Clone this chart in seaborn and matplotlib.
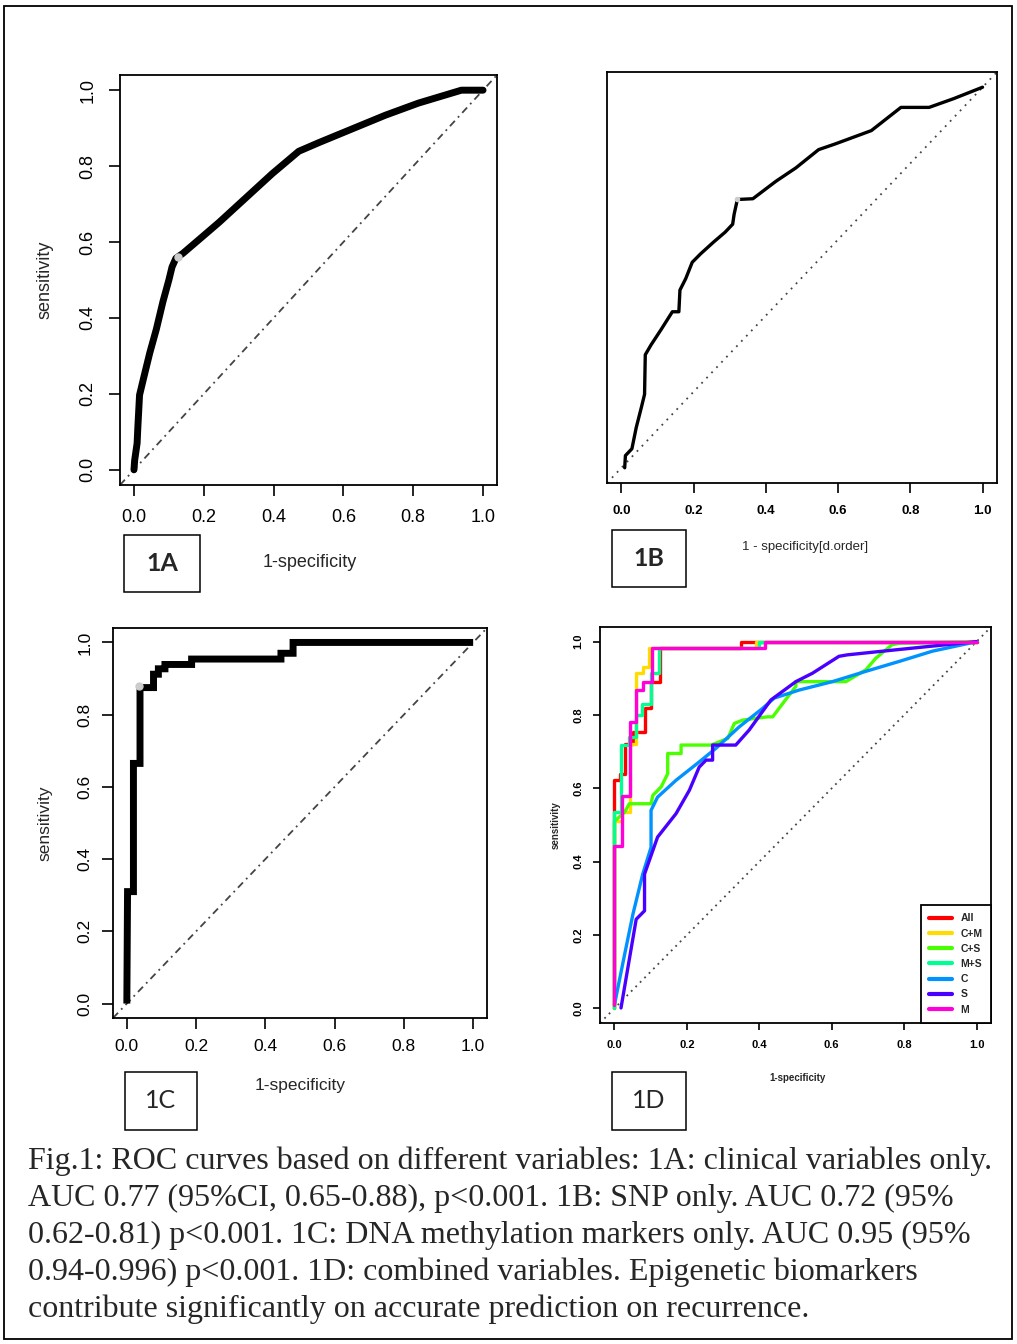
import numpy as np
import pandas as pd
import seaborn as sns
import matplotlib.pyplot as plt
from matplotlib.patches import Rectangle

# ---- data ----
# 1A: clinical variables only
fpr_a = [0.0, 0.002, 0.009, 0.011, 0.016, 0.028, 0.045, 0.064, 0.083, 0.10, 0.109, 0.12,
         0.14, 0.187, 0.244, 0.32, 0.396, 0.472, 0.53, 0.625, 0.72, 0.815, 0.938, 1.0]
tpr_a = [0.0, 0.025, 0.07, 0.11, 0.197, 0.243, 0.307, 0.37, 0.443, 0.50, 0.534, 0.557,
         0.57, 0.607, 0.652, 0.716, 0.78, 0.839, 0.862, 0.898, 0.934, 0.966, 1.0, 1.0]
best_a = (0.125, 0.56)

# 1B: SNP only
fpr_b = [0.009, 0.011, 0.029, 0.041, 0.055, 0.064, 0.066, 0.082, 0.109, 0.141, 0.159, 0.162,
         0.178, 0.196, 0.219, 0.255, 0.287, 0.308, 0.312, 0.321, 0.364, 0.428, 0.483, 0.546,
         0.592, 0.692, 0.774, 0.852, 0.92, 1.0]
tpr_b = [0.0, 0.032, 0.05, 0.106, 0.158, 0.193, 0.297, 0.323, 0.362, 0.41, 0.41, 0.467,
         0.497, 0.54, 0.562, 0.593, 0.619, 0.64, 0.666, 0.705, 0.707, 0.753, 0.788, 0.836,
         0.851, 0.886, 0.947, 0.947, 0.97, 1.0]
best_b = (0.321, 0.705)

# 1C: DNA methylation markers only
fpr_c = [0.0, 0.0, 0.002, 0.019, 0.019, 0.038, 0.038, 0.077, 0.077, 0.091, 0.091, 0.11,
         0.11, 0.187, 0.187, 0.445, 0.445, 0.48, 0.48, 1.0]
tpr_c = [0.0, 0.01, 0.31, 0.31, 0.665, 0.665, 0.875, 0.875, 0.912, 0.912, 0.927, 0.927,
         0.939, 0.939, 0.954, 0.954, 0.97, 0.97, 1.0, 1.0]
best_c = (0.034, 0.88)

# 1D: combined variables
models = ["All", "C+M", "C+S", "M+S", "C", "S", "M"]
colors = ["#FF0000", "#FFDB00", "#49FF00", "#00FF92", "#0092FF", "#4900FF", "#FF00DB"]

fpr_all = [0.0, 0.0, 0.014, 0.014, 0.028, 0.028, 0.05, 0.05, 0.083, 0.083, 0.1, 0.1, 0.126,
           0.126, 0.35, 0.35, 1.0]
tpr_all = [0.0, 0.622, 0.622, 0.64, 0.64, 0.72, 0.72, 0.755, 0.755, 0.82, 0.82, 0.89, 0.89,
           0.983, 0.983, 1.0, 1.0]
fpr_cm = [0.0, 0.0, 0.021, 0.021, 0.043, 0.043, 0.06, 0.06, 0.078, 0.078, 0.096, 0.096,
          0.39, 0.39, 1.0]
tpr_cm = [0.0, 0.51, 0.51, 0.535, 0.535, 0.72, 0.72, 0.914, 0.914, 0.932, 0.932, 0.983,
          0.983, 1.0, 1.0]
fpr_cs = [0.0, 0.0, 0.028, 0.041, 0.101, 0.106, 0.129, 0.147, 0.147, 0.184, 0.184, 0.267,
          0.313, 0.331, 0.354, 0.39, 0.423, 0.437, 0.469, 0.501, 0.501, 0.639, 0.694, 0.722,
          0.767, 0.79, 1.0]
tpr_cs = [0.0, 0.51, 0.535, 0.558, 0.558, 0.581, 0.604, 0.64, 0.695, 0.695, 0.718, 0.718,
          0.736, 0.777, 0.786, 0.791, 0.795, 0.795, 0.837, 0.878, 0.891, 0.891, 0.923, 0.955,
          0.992, 0.996, 1.0]
fpr_ms = [0.0, 0.0, 0.018, 0.018, 0.04, 0.04, 0.06, 0.06, 0.075, 0.075, 0.1, 0.1, 0.124,
          0.124, 0.4, 0.4, 1.0]
tpr_ms = [0.0, 0.535, 0.535, 0.718, 0.718, 0.74, 0.74, 0.8, 0.8, 0.83, 0.83, 0.915, 0.915,
          0.983, 0.983, 1.0, 1.0]
fpr_cl = [0.0, 0.028, 0.051, 0.078, 0.101, 0.101, 0.119, 0.17, 0.234, 0.28, 0.345, 0.409,
          0.441, 0.51, 0.602, 0.694, 0.786, 0.878, 1.0]
tpr_cl = [0.01, 0.147, 0.257, 0.366, 0.439, 0.54, 0.576, 0.622, 0.672, 0.709, 0.768, 0.818,
          0.846, 0.868, 0.891, 0.919, 0.946, 0.974, 1.0]
fpr_snp = [0.018, 0.06, 0.083, 0.083, 0.119, 0.17, 0.207, 0.234, 0.253, 0.271, 0.271, 0.335,
           0.372, 0.432, 0.501, 0.547, 0.62, 0.643, 0.74, 0.869, 1.0]
tpr_snp = [0.001, 0.243, 0.266, 0.366, 0.467, 0.531, 0.595, 0.658, 0.677, 0.677, 0.718, 0.718,
           0.759, 0.841, 0.891, 0.914, 0.96, 0.964, 0.974, 0.987, 1.0]
fpr_m = [0.0, 0.0, 0.021, 0.021, 0.043, 0.043, 0.06, 0.06, 0.08, 0.08, 0.103, 0.103, 0.415,
         0.415, 1.0]
tpr_m = [0.01, 0.444, 0.444, 0.58, 0.58, 0.78, 0.78, 0.868, 0.868, 0.89, 0.89, 0.983, 0.983,
         1.0, 1.0]

ticks = [0.0, 0.2, 0.4, 0.6, 0.8, 1.0]
tick_labels = ["0.0", "0.2", "0.4", "0.6", "0.8", "1.0"]

caption = [
    "Fig.1: ROC curves based on different variables: 1A: clinical variables only.",
    "AUC 0.77 (95%CI, 0.65-0.88), p<0.001. 1B: SNP only. AUC 0.72 (95%",
    "0.62-0.81) p<0.001. 1C: DNA methylation markers only. AUC 0.95 (95%",
    "0.94-0.996) p<0.001. 1D: combined variables. Epigenetic biomarkers",
    "contribute significantly on accurate prediction on recurrence.",
]

# ---- figure ----
sns.set_theme(style="ticks")
plt.rcParams['font.family'] = ['Liberation Sans', 'DejaVu Sans']

W, H = 1017, 1344
fig = plt.figure(figsize=(W / 100, H / 100), dpi=100)
fig.patch.set_facecolor('white')


def px_box(x0, y0, x1, y1):
    return [x0 / W, 1 - y1 / H, (x1 - x0) / W, (y1 - y0) / H]


def setup(ax, lab_size, weight, tick_len, pad=7):
    ax.set_xlim(-0.04, 1.04)
    ax.set_ylim(-0.04, 1.04)
    ax.set_facecolor('white')
    for s in ax.spines.values():
        s.set_linewidth(1.3)
        s.set_color('black')
    ax.set_xticks(ticks, tick_labels)
    ax.set_yticks(ticks, tick_labels)
    ax.tick_params(direction='out', length=tick_len, width=1.2, labelsize=lab_size,
                   pad=pad, colors='black')
    ax.tick_params(axis='y', labelrotation=90)
    for t in ax.get_xticklabels() + ax.get_yticklabels():
        t.set_fontweight(weight)
    for t in ax.get_yticklabels():
        t.set_va('center')


def labels(ax, xl, yl, xpos, ypos, size, weight='normal'):
    ax.set_xlabel(xl, fontsize=size, fontweight=weight)
    ax.set_ylabel(yl, fontsize=size, fontweight=weight)
    ax.xaxis.set_label_coords(*xpos)
    ax.yaxis.set_label_coords(*ypos)
    ax.xaxis.label.set(va='center', ha='center')
    ax.yaxis.label.set(va='center', ha='center', rotation_mode='default')


def diag(ax, ls):
    ax.axline((0, 0), (1, 1), color='#444444', lw=1.3, ls=ls)


# 1A
axA = fig.add_axes(px_box(120, 75, 497, 485))
setup(axA, 13, 'normal', 8, pad=9)
diag(axA, (0, (4, 2.5, 1, 2.5)))
sns.lineplot(x=fpr_a, y=tpr_a, sort=False, estimator=None, color='black', lw=5,
             ax=axA, solid_joinstyle='round', solid_capstyle='round')
axA.plot(*best_a, 'o', color='#cccccc', ms=5)
labels(axA, "1-specificity", "sensitivity", (0.504, -0.188), (-0.199, 0.5), 13)

# 1B
axB = fig.add_axes(px_box(607, 72, 997, 483))
setup(axB, 9.5, 'bold', 7, pad=9)
axB.set_yticks([])
diag(axB, (0, (1, 3)))
sns.lineplot(x=fpr_b, y=tpr_b, sort=False, estimator=None, color='black', lw=2.4,
             ax=axB, solid_joinstyle='round', solid_capstyle='round')
axB.plot(*best_b, 'o', color='#cccccc', ms=3)
labels(axB, "1 - specificity[d.order]", "sensitivity[d.order]",
       (0.508, -0.156), (-0.131, 0.5), 9.5)

# 1C
axC = fig.add_axes(px_box(113, 628, 487, 1018))
setup(axC, 12.5, 'normal', 8)
diag(axC, (0, (4, 2.5, 1, 2.5)))
sns.lineplot(x=fpr_c, y=tpr_c, sort=False, estimator=None, color='black', lw=5,
             ax=axC, solid_joinstyle='miter', solid_capstyle='butt')
axC.plot(*best_c, 'o', color='#cccccc', ms=5)
labels(axC, "1-specificity", "sensitivity", (0.50, -0.172), (-0.182, 0.5), 12.5)

# 1D
axD = fig.add_axes(px_box(600, 627, 991, 1023))
setup(axD, 8, 'bold', 5)
diag(axD, (0, (1, 2.5)))
frames = []
for m, f, t in zip(models, [fpr_all, fpr_cm, fpr_cs, fpr_ms, fpr_cl, fpr_snp, fpr_m],
                   [tpr_all, tpr_cm, tpr_cs, tpr_ms, tpr_cl, tpr_snp, tpr_m]):
    frames.append(pd.DataFrame({'fpr': f, 'tpr': t, 'model': m}))
df_d = pd.concat(frames, ignore_index=True)
sns.lineplot(data=df_d, x='fpr', y='tpr', hue='model', hue_order=models, palette=colors,
             sort=False, estimator=None, lw=2.4, ax=axD)
h, l = axD.get_legend_handles_labels()
leg = axD.legend(h, l, loc='lower right', borderaxespad=0, fancybox=False,
                 edgecolor='black', framealpha=1, handlelength=2.2, handletextpad=0.8,
                 labelspacing=0.5, borderpad=0.8, prop={'size': 7.5, 'weight': 'bold'})
leg.get_frame().set_linewidth(1.3)
for ln in leg.get_lines():
    ln.set_linewidth(3)
labels(axD, "1-specificity", "sensitivity", (0.504, -0.139), (-0.114, 0.5), 7, 'bold')

# panel tags
tags = [("1A", 124, 535, 200, 592, 'bold'), ("1B", 612, 530, 686, 587, 'bold'),
        ("1C", 125, 1072, 197, 1130, 'normal'), ("1D", 612, 1072, 686, 1130, 'normal')]
for name, x0, y0, x1, y1, wt in tags:
    fig.add_artist(Rectangle((x0 / W, 1 - y1 / H), (x1 - x0) / W, (y1 - y0) / H,
                             transform=fig.transFigure, fill=False, ec='black', lw=1.1))
    fig.text((x0 + x1) / 2 / W, 1 - (y0 + y1) / 2 / H, name, ha='center', va='center',
             fontsize=18, fontweight=wt, family=['Lato', 'DejaVu Sans'])

# caption
for i, line in enumerate(caption):
    fig.text(28 / W, 1 - (1169 + 37 * i) / H, line, ha='left', va='baseline',
             fontsize=23, family=['Liberation Serif', 'DejaVu Serif'])

# outer frame
fig.add_artist(Rectangle((4 / W, 1 - 1339 / H), 1008 / W, 1333 / H,
                         transform=fig.transFigure, fill=False, ec='black', lw=1.3))

fig.savefig('out.png', dpi=100, facecolor='white')
